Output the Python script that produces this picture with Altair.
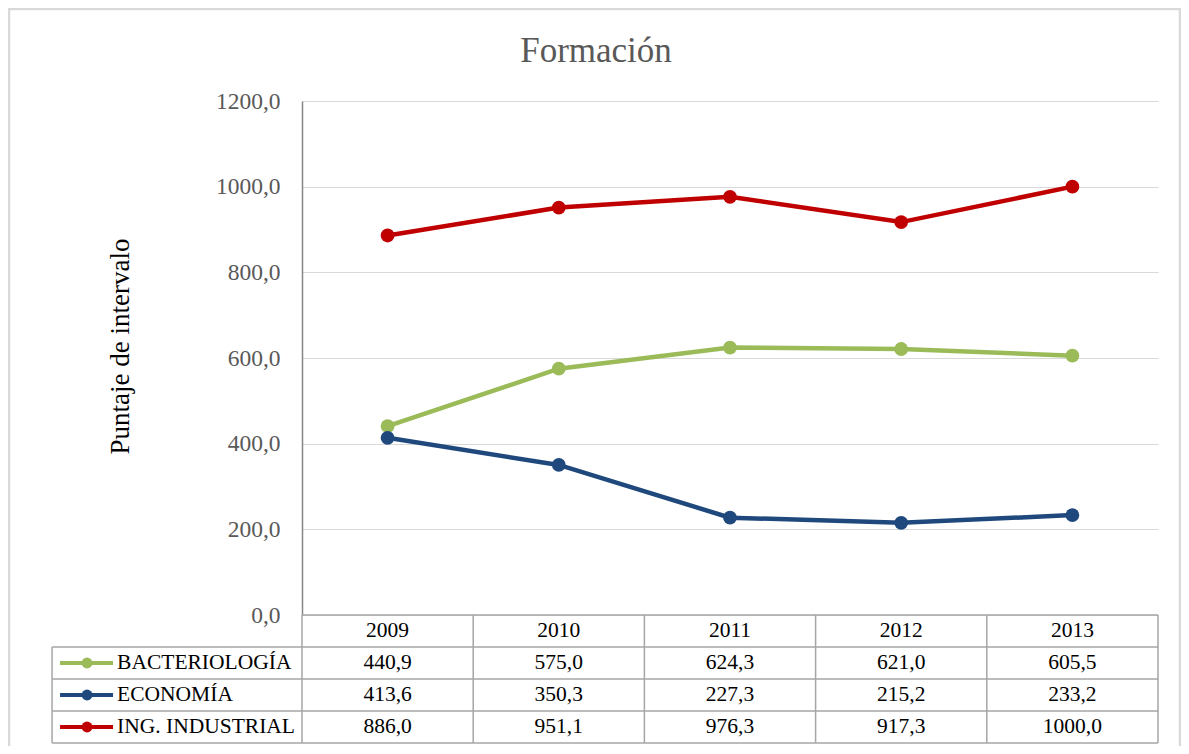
import altair as alt
import pandas as pd

YEARS = [2009, 2010, 2011, 2012, 2013]
SERIES = ["BACTERIOLOGÍA", "ECONOMÍA", "ING. INDUSTRIAL"]
BACT = [440.9, 575.0, 624.3, 621.0, 605.5]
ECON = [413.6, 350.3, 227.3, 215.2, 233.2]
ING = [886.0, 951.1, 976.3, 917.3, 1000.0]
COLORS = ["#9BBB59", "#1F497D", "#C00000"]
Y_TICKS = [0, 200, 400, 600, 800, 1000, 1200]
TITLE = "Formación"

VALUES = [BACT, ECON, ING]
LABEL_COL = 1.46  # width of the table's label column, in year-column units
FONT = "Liberation Serif"
BORDER = "#A6A6A6"

rows = []
for si, (name, vals) in enumerate(zip(SERIES, VALUES)):
    for xi, (yr, v) in enumerate(zip(YEARS, vals)):
        rows.append({"series": name, "xi": xi, "year": yr, "value": v, "r": si + 1.5})
df = pd.DataFrame(rows)

left = -0.5 - LABEL_COL
hl = pd.DataFrame({"x1": [-0.5] + [left] * 4, "x2": [len(YEARS) - 0.5] * 5, "r": [0, 1, 2, 3, 4]})
vx = [left] + [k - 0.5 for k in range(len(YEARS) + 1)]
vl = pd.DataFrame({"x": vx, "r1": [1] + [0] * (len(YEARS) + 1), "r2": [4] * len(vx)})
hdr = pd.DataFrame({"xi": list(range(len(YEARS))), "year": [str(y) for y in YEARS], "r": [0.5] * len(YEARS)})
leg = pd.DataFrame({"series": SERIES, "xl": [left] * len(SERIES), "r": [i + 1.5 for i in range(len(SERIES))]})

xs = alt.Scale(domain=[-0.5, len(YEARS) - 0.5], nice=False, zero=False)
ys = alt.Scale(domain=[0, 1200], nice=False, zero=False)
rs = alt.Scale(domain=[0, 4], range=[514, 642], nice=False, zero=False)
cs = alt.Scale(domain=SERIES, range=COLORS)

color = alt.Color("series:N", scale=cs, legend=None)

one = pd.DataFrame({"t": [TITLE]})
frame = alt.Chart(one).mark_rect(
    fillOpacity=0, stroke="#D9D9D9", strokeWidth=2.5
).encode(x=alt.value(-293), x2=alt.value(878), y=alt.value(-92), y2=alt.value(900))

title = alt.Chart(one).mark_text(
    font=FONT, fontSize=35, color="#595959", align="center", baseline="alphabetic"
).encode(x=alt.value(294), y=alt.value(-39), text="t:N")

yaxis = alt.Axis(
    values=Y_TICKS,
    labelExpr="replace(format(datum.value, '.1f'), '.', ',')",
    labelFont=FONT, labelFontSize=23.5, labelColor="#595959", labelPadding=22,
    ticks=False, domainColor="#868686", domainWidth=1.5,
    gridColor="#D9D9D9", gridWidth=1.2,
    title="Puntaje de intervalo", titleFont=FONT, titleFontSize=27,
    titleFontWeight="normal", titleColor="#000000",
    titleAngle=270, titleX=-182, titleY=245, titleAlign="center", titleBaseline="middle",
)

lines = alt.Chart(df).mark_line(strokeWidth=4.5).encode(
    x=alt.X("xi:Q", scale=xs, axis=None),
    y=alt.Y("value:Q", scale=ys, axis=yaxis),
    color=color, detail="series:N",
)
points = alt.Chart(df).mark_circle(size=190, opacity=1).encode(
    x=alt.X("xi:Q", scale=xs, axis=None),
    y=alt.Y("value:Q", scale=ys, axis=None),
    color=color,
)

hlines = alt.Chart(hl).mark_rule(color=BORDER, strokeWidth=1.5).encode(
    x=alt.X("x1:Q", scale=xs, axis=None), x2="x2:Q",
    y=alt.Y("r:Q", scale=rs, axis=None),
)
vlines = alt.Chart(vl).mark_rule(color=BORDER, strokeWidth=1.5).encode(
    x=alt.X("x:Q", scale=xs, axis=None),
    y=alt.Y("r1:Q", scale=rs, axis=None), y2="r2:Q",
)
header = alt.Chart(hdr).mark_text(font=FONT, fontSize=21.5, color="#000000").encode(
    x=alt.X("xi:Q", scale=xs, axis=None),
    y=alt.Y("r:Q", scale=rs, axis=None),
    text="year:N",
)
cells = alt.Chart(df).transform_calculate(
    label="replace(format(datum.value, '.1f'), '.', ',')"
).mark_text(font=FONT, fontSize=21.5, color="#000000").encode(
    x=alt.X("xi:Q", scale=xs, axis=None),
    y=alt.Y("r:Q", scale=rs, axis=None),
    text="label:N",
)
leg_line = alt.Chart(leg).mark_rule(strokeWidth=4, xOffset=8, x2Offset=61).encode(
    x=alt.X("xl:Q", scale=xs, axis=None), x2="xl:Q",
    y=alt.Y("r:Q", scale=rs, axis=None), color=color,
)
leg_dot = alt.Chart(leg).mark_circle(size=120, opacity=1, xOffset=35).encode(
    x=alt.X("xl:Q", scale=xs, axis=None),
    y=alt.Y("r:Q", scale=rs, axis=None), color=color,
)
leg_text = alt.Chart(leg).mark_text(font=FONT, fontSize=21.5, color="#000000", align="left", dx=65).encode(
    x=alt.X("xl:Q", scale=xs, axis=None),
    y=alt.Y("r:Q", scale=rs, axis=None),
    text="series:N",
)

chart = alt.layer(
    frame, title, lines, points, hlines, vlines, header, cells, leg_line, leg_dot, leg_text
).resolve_scale(y="independent").properties(
    width=856, height=514,
    padding={"left": 294, "top": 93, "right": 23, "bottom": 131},
    autosize=alt.AutoSizeParams(type="none"),
).configure_view(stroke=None)

chart.save("out.html", embed_options={"renderer": "svg", "actions": False})
